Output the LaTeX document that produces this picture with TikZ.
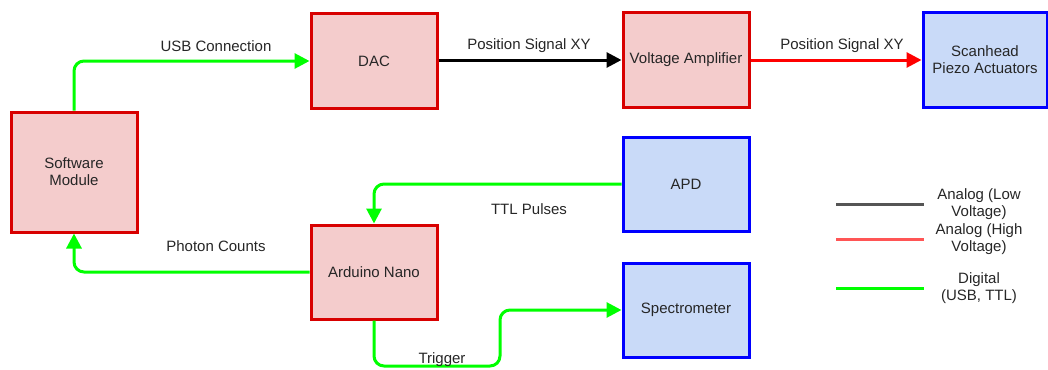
\documentclass[tikz,border=0pt]{standalone}
\usepackage{fontspec}
\setmainfont{Liberation Sans}
\usetikzlibrary{arrows.meta,positioning}
\definecolor{boxpink}{HTML}{F4CCCC}
\definecolor{boxred}{HTML}{D80000}
\definecolor{boxblue}{HTML}{C9DAF8}
\definecolor{boxedge}{HTML}{0000FF}
\definecolor{sigmint}{HTML}{00FF00}
\definecolor{leggray}{HTML}{555555}
\definecolor{legred}{HTML}{FF5555}

\begin{document}
\begin{tikzpicture}[x=1pt,y=-1pt,
    font=\fontsize{15}{17}\selectfont,text=black!85,
    block/.style={draw,line width=3pt,inner sep=0pt,align=center,
      minimum width=126pt,minimum height=94pt},
    module/.style={block,draw=boxred,fill=boxpink},
    device/.style={block,draw=boxedge,fill=boxblue},
    wire/.style={line width=3pt,rounded corners=10pt,
      -{Triangle[length=15pt,width=15pt]}},
    digital/.style={wire,draw=sigmint},
    lowvolt/.style={wire,draw=black},
    highvolt/.style={wire,draw=red}]
  \useasboundingbox (0,0) rectangle (1048,369);

  \node[module,minimum height=120pt] (soft) at (74,172) {Software\\Module};
  \node[module] (dac) at (374,61) {DAC};
  \node[module] (amp) at (686,60) {Voltage Amplifier};
  \node[device,minimum width=124pt] (scan) at (985,60) {Scanhead\\Piezo Actuators};
  \node[device] (apd) at (686,184) {APD};
  \node[module] (nano) at (374,272) {Arduino Nano};
  \node[device] (spec) at (686,310) {Spectrometer};

  \coordinate (trig) at (500,366);

  \draw[digital] (soft.north) |- (dac.west);
  \draw[lowvolt] (dac.east |- amp) -- (amp);
  \draw[highvolt] (amp) -- (scan);
  \draw[digital] (apd.west) -| (nano.north);
  \draw[digital] (nano.west) -| (soft.south);
  \draw[digital] (nano.south) |- (trig) |- (spec.west);

  \node (usblbl) at (216,46) {USB Connection};
  \node (lowlbl) at (529,46) {Position Signal XY};
  \node (highlbl) at (842,46) {Position Signal XY};
  \node (ttllbl) at (529,209) {TTL Pulses};
  \node (photlbl) at (216,246) {Photon Counts};
  \node (triglbl) at (442,360) {Trigger};

  \foreach \y/\c/\t [count=\i] in {204/leggray/{Analog (Low\\Voltage)},
      239/legred/{Analog (High\\Voltage)},288/sigmint/{Digital\\(USB, TTL)}}{
    \draw[\c,line width=3pt] (836,\y) -- (924,\y);
    \node[align=center] (leg\i) at (979,\y) {\t};
  }
\end{tikzpicture}
\end{document}
